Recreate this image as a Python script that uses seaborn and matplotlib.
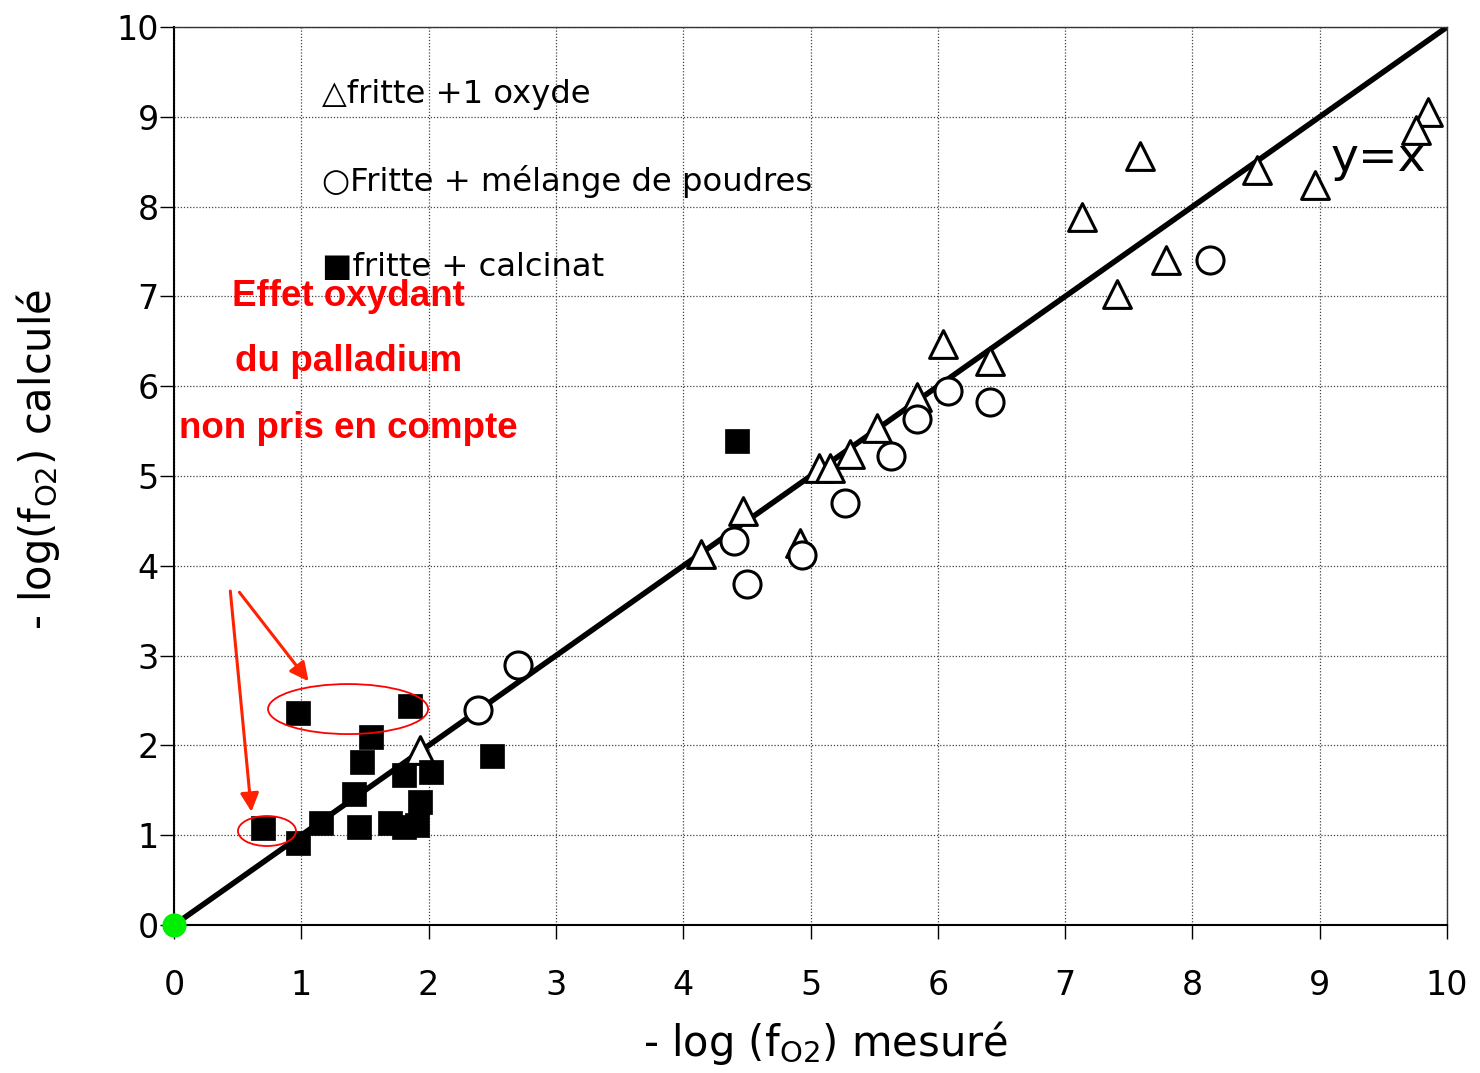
import matplotlib
matplotlib.use("Agg")
import matplotlib.pyplot as plt
from matplotlib.patches import Ellipse
import seaborn as sns
import pandas as pd

# ---- data ----
tri_x = [9.85, 9.76, 7.59, 8.51, 8.96, 7.135, 7.79, 7.41, 6.04, 6.41, 5.84, 5.52,
         5.31, 5.07, 5.15, 4.47, 4.14, 4.92, 1.93]
tri_y = [9.05, 8.85, 8.56, 8.41, 8.24, 7.88, 7.41, 7.03, 6.47, 6.28, 5.88, 5.53,
         5.25, 5.09, 5.085, 4.61, 4.13, 4.25, 1.95]

circ_x = [8.14, 6.08, 6.41, 5.84, 5.63, 5.27, 4.40, 4.93, 4.50, 2.39, 2.70]
circ_y = [7.41, 5.95, 5.82, 5.64, 5.22, 4.70, 4.28, 4.12, 3.80, 2.40, 2.90]

sq_x = [0.976, 1.85, 1.55, 1.48, 1.81, 2.02, 1.41, 1.93, 1.155, 1.45, 1.70, 1.81,
        1.91, 0.70, 0.97, 2.50, 4.42]
sq_y = [2.364, 2.44, 2.09, 1.81, 1.67, 1.70, 1.46, 1.37, 1.14, 1.09, 1.14, 1.09,
        1.11, 1.08, 0.91, 1.885, 5.39]

line_x = [0, 10]
line_y = [0, 10]
origin_x = [0]
origin_y = [0]

xticks = list(range(0, 11))
yticks = list(range(0, 11))

legend_labels = ["\u25b3fritte +1 oxyde", "\u25cbFritte + mélange de poudres", "\u25a0fritte + calcinat"]
note_lines = ["Effet oxydant", "du palladium", "non pris en compte"]

# ---- style ----
sns.set_theme(style="whitegrid")
plt.rcParams['font.family'] = ['DejaVu Sans']
plt.rcParams['text.color'] = 'black'
plt.rcParams['axes.labelcolor'] = 'black'
plt.rcParams['xtick.color'] = 'black'
plt.rcParams['ytick.color'] = 'black'

fig = plt.figure(figsize=(14.8, 10.73), dpi=100)
ax = fig.add_axes([0.1176, 0.1379, 0.8601, 0.8369])
ax.set_facecolor("white")

ax.grid(True, linestyle=(0, (1, 1.5)), color="#444444", linewidth=0.9)

sns.lineplot(x=line_x, y=line_y, ax=ax, color="black", linewidth=4, zorder=2)

sns.scatterplot(x=tri_x, y=tri_y, ax=ax, marker="^", s=400, facecolor="white",
                edgecolor="black", linewidth=2.2, zorder=3)
sns.scatterplot(x=circ_x, y=circ_y, ax=ax, marker="o", s=380, facecolor="white",
                edgecolor="black", linewidth=2.2, zorder=3)
sns.scatterplot(x=sq_x, y=sq_y, ax=ax, marker="s", s=300, color="black",
                edgecolor="black", linewidth=0.5, zorder=4)
sns.scatterplot(x=origin_x, y=origin_y, ax=ax, marker="o", s=260, color="#00ee00",
                edgecolor="#00ee00", zorder=5, clip_on=False)

ax.set_xlim(0, 10)
ax.set_ylim(0, 10)
ax.set_xticks(xticks)
ax.set_yticks(yticks)
ax.tick_params(axis="both", which="major", labelsize=24, length=10, width=1,
               color="black", labelcolor="black", direction="out", bottom=True, left=True)
ax.tick_params(axis="x", pad=22)
ax.tick_params(axis="y", pad=1)

for side in ["left", "bottom"]:
    ax.spines[side].set_color("black")
    ax.spines[side].set_linewidth(1.5)
for side in ["top", "right"]:
    ax.spines[side].set_color("#333333")
    ax.spines[side].set_linewidth(1.0)

ax.set_xlabel(r"- log (f$_{\mathrm{O2}}$) mesuré", fontsize=30, labelpad=14, color="black")
ax.xaxis.set_label_coords(0.512, -0.105)
ax.set_ylabel(r"- log(f$_{\mathrm{O2}}$) calculé", fontsize=30, labelpad=28, color="black")
ax.yaxis.set_label_coords(-0.088, 0.519)

# legend-like text
leg_y = [9.25, 8.28, 7.32]
for lbl, yy in zip(legend_labels, leg_y):
    ax.text(1.16, yy, lbl, fontsize=23.2, va="center", ha="left", color="black", zorder=6)

# red annotation text
note_y = [7.0, 6.28, 5.53]
for ln, yy in zip(note_lines, note_y):
    ax.text(1.37, yy, ln, fontsize=26.5, fontweight="bold", color="red",
            family="Liberation Sans", ha="center", va="center", zorder=6)

ax.text(9.46, 8.54, "y=x", fontsize=34, ha="center", va="center", color="black", zorder=6)

# ellipses
ax.add_patch(Ellipse((1.367, 2.405), 1.257, 0.557, fill=False, edgecolor="red", linewidth=1.3, zorder=5))
ax.add_patch(Ellipse((0.73, 1.047), 0.456, 0.334, fill=False, edgecolor="red", linewidth=1.3, zorder=5))

# arrows
ax.annotate("", xy=(0.61, 1.23), xytext=(0.44, 3.75),
            arrowprops=dict(arrowstyle="-|>", color="#ff2200", lw=2.2, mutation_scale=28))
ax.annotate("", xy=(1.07, 2.69), xytext=(0.50, 3.73),
            arrowprops=dict(arrowstyle="-|>", color="#ff2200", lw=2.2, mutation_scale=28))

fig.savefig("out.png", dpi=100)
